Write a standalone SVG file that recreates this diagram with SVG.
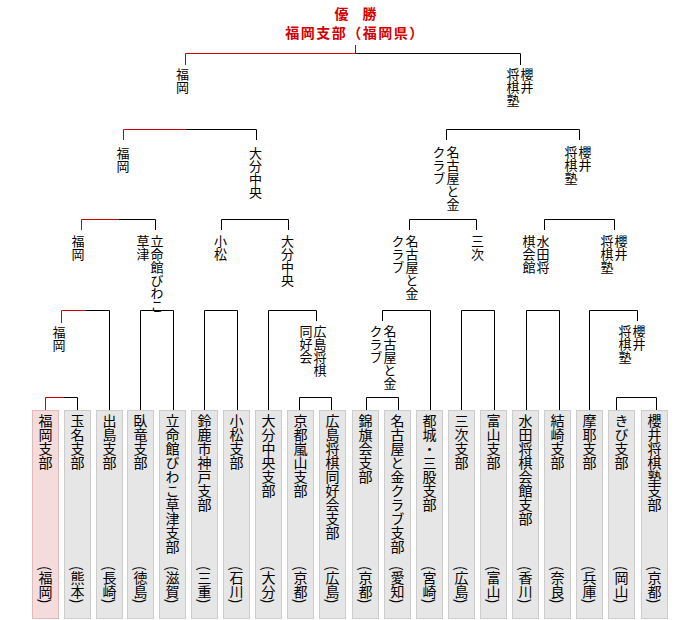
<svg xmlns="http://www.w3.org/2000/svg" width="700" height="620" viewBox="0 0 700 620">
<style>
.ln{fill:none;stroke:#000;stroke-width:1}
.rd{fill:none;stroke:#cc0000;stroke-width:1}
.box{fill:#e6e6e6;stroke:#cccccc;stroke-width:1}
.win{fill:#f5dcdc;stroke:#e3b9b9;stroke-width:1}
.v{font-family:"Noto Sans CJK JP","Noto Sans CJK SC",sans-serif;writing-mode:vertical-rl;fill:#000}
.lb{font-size:13px}
.bx{font-size:14px}
.tt{font-family:"Noto Sans CJK JP","Noto Sans CJK SC",sans-serif;font-weight:bold;fill:#d40000;text-anchor:middle;font-size:14px}
</style>
<g id="title">
<text class="tt" x="355.5" y="18.5">優　勝</text>
<text class="tt" x="355" y="37.5" style="letter-spacing:1.5px">福岡支部（福岡県）</text>
</g>
<g id="connectors">
<path class="rd" d="M355.5,45V53.5M185.5,65V53.5H355.5"/>
<path class="ln" d="M355.5,53.5H520.5V65"/>
<path class="rd" d="M123.5,140V129.5H185.5"/>
<path class="ln" d="M185.5,129.5H256.5V140"/>
<path class="ln" d="M446.5,140V129.5H579.5V140"/>
<path class="rd" d="M81.5,230V219.5H118.5"/>
<path class="ln" d="M118.5,219.5H155.5V230"/>
<path class="ln" d="M221.5,230V219.5H288.5V230"/>
<path class="ln" d="M409.5,230V219.5H476.5V230"/>
<path class="ln" d="M544.5,230V219.5H614.5V230"/>
<path class="rd" d="M61.5,323V310.5H85.5"/>
<path class="ln" d="M85.5,310.5H109.5V410"/>
<path class="ln" d="M140.5,410V310.5H173.5V410"/>
<path class="ln" d="M204.5,410V310.5H237.5V410"/>
<path class="ln" d="M268.5,410V310.5H316.5V321"/>
<path class="ln" d="M382.5,321V310.5H430.5V410"/>
<path class="ln" d="M461.5,410V310.5H494.5V410"/>
<path class="ln" d="M526.5,410V310.5H559.5V410"/>
<path class="ln" d="M589.5,410V310.5H637.5V321"/>
<path class="rd" d="M45.5,410V397.5H64"/>
<path class="ln" d="M64,397.5H77.5V410"/>
<path class="ln" d="M299.5,410V397.5H331.5V410"/>
<path class="ln" d="M366.5,410V397.5H398.5V410"/>
<path class="ln" d="M616.5,410V397.5H656.5V410"/>
</g>
<g id="labels">
<g id="f-fukuoka"><text class="v lb" x="182.5" y="68">福岡</text></g>
<g id="f-sakurai"><text class="v lb" x="527" y="68">櫻井</text><text class="v lb" x="513" y="68">将棋塾</text></g>
<g id="s-fukuoka"><text class="v lb" x="123" y="147">福岡</text></g>
<g id="s-oita"><text class="v lb" x="255.5" y="147">大分中央</text></g>
<g id="s-nagoya"><text class="v lb" x="453" y="146">名古屋と金</text><text class="v lb" x="439" y="146">クラブ</text></g>
<g id="s-sakurai"><text class="v lb" x="585" y="146">櫻井</text><text class="v lb" x="571" y="146">将棋塾</text></g>
<g id="q-fukuoka"><text class="v lb" x="78" y="235">福岡</text></g>
<g id="q-ritsumei"><text class="v lb" x="157" y="235">立命館びわこ</text><text class="v lb" x="143" y="235">草津</text></g>
<g id="q-komatsu"><text class="v lb" x="220.5" y="235">小松</text></g>
<g id="q-oita"><text class="v lb" x="287.5" y="235">大分中央</text></g>
<g id="q-nagoya"><text class="v lb" x="412" y="235">名古屋と金</text><text class="v lb" x="398" y="235">クラブ</text></g>
<g id="q-miyoshi"><text class="v lb" x="477.5" y="235">三次</text></g>
<g id="q-mizuta"><text class="v lb" x="543" y="235">水田将</text><text class="v lb" x="529" y="235">棋会館</text></g>
<g id="q-sakurai"><text class="v lb" x="621" y="235">櫻井</text><text class="v lb" x="607" y="235">将棋塾</text></g>
<g id="r-fukuoka"><text class="v lb" x="59" y="326">福岡</text></g>
<g id="r-hiroshima"><text class="v lb" x="320" y="325">広島将棋</text><text class="v lb" x="306" y="325">同好会</text></g>
<g id="r-nagoya"><text class="v lb" x="390" y="325">名古屋と金</text><text class="v lb" x="376" y="325">クラブ</text></g>
<g id="r-sakurai"><text class="v lb" x="639" y="325">櫻井</text><text class="v lb" x="625" y="325">将棋塾</text></g>
</g>
<g id="teams">
<g id="t1"><rect class="win" x="32.5" y="410.5" width="26" height="208"/><text class="v bx" x="45.5" y="414">福岡支部</text><text class="v bx" x="45.5" y="566">(福岡)</text></g>
<g id="t2"><rect class="box" x="64.5" y="410.5" width="26" height="208"/><text class="v bx" x="77.5" y="414">玉名支部</text><text class="v bx" x="77.5" y="566">(熊本)</text></g>
<g id="t3"><rect class="box" x="96.5" y="410.5" width="26" height="208"/><text class="v bx" x="109.5" y="414">出島支部</text><text class="v bx" x="109.5" y="566">(長崎)</text></g>
<g id="t4"><rect class="box" x="127.5" y="410.5" width="26" height="208"/><text class="v bx" x="140.5" y="414">臥竜支部</text><text class="v bx" x="140.5" y="566">(徳島)</text></g>
<g id="t5"><rect class="box" x="159.5" y="410.5" width="26" height="208"/><text class="v bx" x="172.5" y="414">立命館びわこ草津支部</text><text class="v bx" x="172.5" y="566">(滋賀)</text></g>
<g id="t6"><rect class="box" x="191.5" y="410.5" width="26" height="208"/><text class="v bx" x="204.5" y="414">鈴鹿市神戸支部</text><text class="v bx" x="204.5" y="566">(三重)</text></g>
<g id="t7"><rect class="box" x="223.5" y="410.5" width="26" height="208"/><text class="v bx" x="236.5" y="414">小松支部</text><text class="v bx" x="236.5" y="566">(石川)</text></g>
<g id="t8"><rect class="box" x="255.5" y="410.5" width="26" height="208"/><text class="v bx" x="268.5" y="414">大分中央支部</text><text class="v bx" x="268.5" y="566">(大分)</text></g>
<g id="t9"><rect class="box" x="287.5" y="410.5" width="26" height="208"/><text class="v bx" x="300.5" y="414">京都嵐山支部</text><text class="v bx" x="300.5" y="566">(京都)</text></g>
<g id="t10"><rect class="box" x="319.5" y="410.5" width="26" height="208"/><text class="v bx" x="332.5" y="414">広島将棋同好会支部</text><text class="v bx" x="332.5" y="566">(広島)</text></g>
<g id="t11"><rect class="box" x="352.5" y="410.5" width="26" height="208"/><text class="v bx" x="365.5" y="414">錦旗会支部</text><text class="v bx" x="365.5" y="566">(京都)</text></g>
<g id="t12"><rect class="box" x="384.5" y="410.5" width="26" height="208"/><text class="v bx" x="397.5" y="414">名古屋と金クラブ支部</text><text class="v bx" x="397.5" y="566">(愛知)</text></g>
<g id="t13"><rect class="box" x="416.5" y="410.5" width="26" height="208"/><text class="v bx" x="429.5" y="414">都城・三股支部</text><text class="v bx" x="429.5" y="566">(宮崎)</text></g>
<g id="t14"><rect class="box" x="448.5" y="410.5" width="26" height="208"/><text class="v bx" x="461.5" y="414">三次支部</text><text class="v bx" x="461.5" y="566">(広島)</text></g>
<g id="t15"><rect class="box" x="480.5" y="410.5" width="26" height="208"/><text class="v bx" x="493.5" y="414">富山支部</text><text class="v bx" x="493.5" y="566">(富山)</text></g>
<g id="t16"><rect class="box" x="512.5" y="410.5" width="26" height="208"/><text class="v bx" x="525.5" y="414">水田将棋会館支部</text><text class="v bx" x="525.5" y="566">(香川)</text></g>
<g id="t17"><rect class="box" x="544.5" y="410.5" width="26" height="208"/><text class="v bx" x="557.5" y="414">結崎支部</text><text class="v bx" x="557.5" y="566">(奈良)</text></g>
<g id="t18"><rect class="box" x="576.5" y="410.5" width="26" height="208"/><text class="v bx" x="589.5" y="414">摩耶支部</text><text class="v bx" x="589.5" y="566">(兵庫)</text></g>
<g id="t19"><rect class="box" x="608.5" y="410.5" width="26" height="208"/><text class="v bx" x="621.5" y="414">きび支部</text><text class="v bx" x="621.5" y="566">(岡山)</text></g>
<g id="t20"><rect class="box" x="641.5" y="410.5" width="26" height="208"/><text class="v bx" x="654.5" y="414">櫻井将棋塾支部</text><text class="v bx" x="654.5" y="566">(京都)</text></g>
</g>
</svg>
